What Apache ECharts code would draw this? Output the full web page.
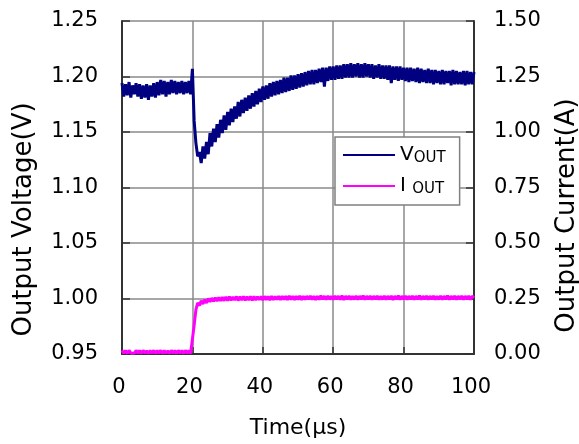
<!DOCTYPE html>
<html>
<head>
<meta charset="utf-8">
<script src="https://cdn.jsdelivr.net/npm/echarts@6/dist/echarts.min.js"></script>
<style>html,body{margin:0;padding:0;background:#fff}#c{width:579px;height:444px}</style>
</head>
<body>
<div id="c"></div>
<script>
// ---- data ----
const timeStepUs = 0.5;           // sample spacing, µs (samples at 0, 0.5, 1, ... 100)
const xTicks = [0, 20, 40, 60, 80, 100];
const voltageTicks = ['0.95','1.00','1.05','1.10','1.15','1.20','1.25'];
const currentTicks = ['0.00','0.25','0.50','0.75','1.00','1.25','1.50'];

// Output voltage (V), one value per 0.5 µs, 10 values per line (5 µs)
const vout = [
  1.194,1.182,1.193,1.183,1.195,1.181,1.192,1.184,1.194,1.182,
  1.193,1.180,1.192,1.181,1.193,1.179,1.192,1.182,1.194,1.181,
  1.195,1.183,1.197,1.184,1.196,1.182,1.195,1.184,1.197,1.185,
  1.196,1.184,1.195,1.185,1.196,1.184,1.195,1.185,1.196,1.184,
  1.207,1.160,1.140,1.128,1.132,1.122,1.137,1.126,1.141,1.130,
  1.149,1.137,1.153,1.141,1.157,1.145,1.161,1.149,1.165,1.152,
  1.168,1.156,1.171,1.159,1.173,1.162,1.177,1.164,1.179,1.167,
  1.181,1.169,1.183,1.171,1.185,1.173,1.187,1.175,1.189,1.177,
  1.191,1.179,1.192,1.180,1.194,1.182,1.195,1.183,1.196,1.184,
  1.197,1.185,1.199,1.186,1.199,1.187,1.201,1.188,1.201,1.189,
  1.202,1.190,1.203,1.191,1.204,1.192,1.205,1.193,1.206,1.193,
  1.206,1.194,1.207,1.195,1.208,1.191,1.208,1.196,1.209,1.197,
  1.209,1.197,1.210,1.198,1.210,1.198,1.211,1.199,1.211,1.199,
  1.212,1.199,1.211,1.200,1.212,1.199,1.211,1.199,1.212,1.200,
  1.211,1.199,1.211,1.198,1.210,1.199,1.211,1.198,1.210,1.198,
  1.210,1.197,1.210,1.194,1.209,1.197,1.209,1.196,1.209,1.197,
  1.208,1.196,1.208,1.195,1.208,1.196,1.207,1.195,1.208,1.194,
  1.207,1.195,1.206,1.194,1.207,1.194,1.206,1.193,1.206,1.194,
  1.205,1.193,1.206,1.193,1.205,1.194,1.205,1.192,1.206,1.193,
  1.205,1.193,1.204,1.193,1.205,1.192,1.205,1.193,1.204,1.193,
  1.204
];

// Output current (A), one value per 0.5 µs, 10 values per line (5 µs)
const iout = [
  0.016,0.004,0.015,0.003,0.016,0.005,0.014,0.003,0.016,0.004,
  0.015,0.003,0.016,0.004,0.014,0.003,0.015,0.004,0.016,0.003,
  0.015,0.004,0.016,0.003,0.015,0.004,0.014,0.003,0.016,0.004,
  0.015,0.003,0.016,0.004,0.015,0.003,0.016,0.004,0.015,0.003,
  0.010,0.130,0.200,0.230,0.218,0.240,0.225,0.245,0.230,0.250,
  0.235,0.252,0.237,0.254,0.238,0.255,0.239,0.256,0.240,0.257,
  0.241,0.258,0.242,0.257,0.243,0.259,0.241,0.258,0.243,0.260,
  0.242,0.258,0.243,0.259,0.242,0.260,0.243,0.258,0.244,0.259,
  0.243,0.260,0.244,0.259,0.243,0.261,0.244,0.259,0.245,0.260,
  0.244,0.261,0.245,0.260,0.244,0.262,0.245,0.260,0.244,0.261,
  0.245,0.262,0.244,0.260,0.245,0.261,0.246,0.262,0.245,0.260,
  0.244,0.261,0.245,0.263,0.246,0.261,0.245,0.262,0.246,0.260,
  0.245,0.262,0.246,0.261,0.245,0.263,0.244,0.261,0.246,0.262,
  0.245,0.260,0.246,0.262,0.245,0.261,0.246,0.263,0.245,0.261,
  0.246,0.262,0.245,0.261,0.246,0.262,0.245,0.260,0.246,0.262,
  0.245,0.261,0.246,0.262,0.244,0.261,0.246,0.263,0.245,0.261,
  0.246,0.262,0.245,0.261,0.246,0.262,0.245,0.261,0.246,0.263,
  0.245,0.261,0.246,0.262,0.245,0.261,0.246,0.262,0.245,0.260,
  0.246,0.262,0.245,0.261,0.246,0.263,0.245,0.261,0.246,0.262,
  0.245,0.261,0.246,0.262,0.245,0.261,0.246,0.262,0.245,0.261,
  0.253
];

const seriesNames = ['VOUT', 'IOUT'];

// ---- chart ----
const FONT = 'DejaVu Sans';
const pair = arr => arr.map((v, i) => [i * timeStepUs, v]);

const chart = echarts.init(document.getElementById('c'), null, {renderer: 'canvas'});
const gridColor = '#8a8a8a';
const axisColor = '#333';

chart.setOption({
  animation: false,
  backgroundColor: '#fff',
  textStyle: {fontFamily: FONT},
  grid: {left: 122, right: 105, top: 21, height: 333, containLabel: false, outerBoundsMode: 'none'},
  xAxis: {
    type: 'value',
    min: xTicks[0], max: xTicks[xTicks.length - 1], interval: xTicks[1] - xTicks[0],
    name: 'Time(µs)', nameLocation: 'middle', nameGap: 63,
    nameTextStyle: {fontFamily: FONT, fontSize: 22, color: '#000'},
    axisLine: {show: true, lineStyle: {color: axisColor, width: 2}},
    axisTick: {show: true, inside: true, length: 7, lineStyle: {color: axisColor, width: 1.5}},
    axisLabel: {fontFamily: FONT, fontSize: 21, color: '#000', margin: 23, padding: [0, 6, 0, 0]},
    splitLine: {show: true, lineStyle: {color: gridColor, width: 1.5}}
  },
  yAxis: [{
    type: 'value', position: 'left',
    min: 0.95, max: 1.25, interval: 0.05,
    name: 'Output Voltage(V)', nameLocation: 'middle', nameRotate: 90, nameGap: 85,
    nameTextStyle: {fontFamily: FONT, fontSize: 26, color: '#000', padding: [0, 64, 0, 0]},
    axisLine: {show: true, lineStyle: {color: axisColor, width: 2}},
    axisTick: {show: true, inside: true, length: 8, lineStyle: {color: axisColor, width: 1.5}},
    axisLabel: {fontFamily: FONT, fontSize: 21, color: '#000', margin: 24,
      formatter: (v, idx) => voltageTicks[idx] !== undefined ? voltageTicks[idx] : v.toFixed(2)},
    splitLine: {show: true, lineStyle: {color: gridColor, width: 1.5}}
  }, {
    type: 'value', position: 'right',
    min: 0, max: 1.5, interval: 0.25,
    name: 'Output Current(A)', nameLocation: 'middle', nameRotate: 90, nameGap: 80,
    nameTextStyle: {fontFamily: FONT, fontSize: 26, color: '#000', padding: [0, 56, 0, 0]},
    axisLine: {show: true, lineStyle: {color: axisColor, width: 2}},
    axisTick: {show: true, inside: true, length: 8, lineStyle: {color: axisColor, width: 1.5}},
    axisLabel: {fontFamily: FONT, fontSize: 21, color: '#000', margin: 20,
      formatter: (v, idx) => currentTicks[idx] !== undefined ? currentTicks[idx] : v.toFixed(2)},
    splitLine: {show: false}
  }],
  legend: {
    data: seriesNames,
    left: 335, top: 137, orient: 'vertical',
    icon: 'rect', itemWidth: 52, itemHeight: 2, itemGap: 10,
    padding: [8, 14, 8, 8],
    borderColor: '#808080', borderWidth: 1.5, backgroundColor: '#fff',
    formatter: name => name === 'VOUT' ? '{big|V}{sub|OUT}' : '{big|I }{sub|OUT}',
    textStyle: {
      color: '#000',
      rich: {
        big: {fontFamily: FONT, fontSize: 20, color: '#000'},
        sub: {fontFamily: FONT, fontSize: 15, color: '#000', padding: [7, 0, 0, 0]}
      }
    }
  },
  series: [{
    name: seriesNames[0], type: 'line', yAxisIndex: 0,
    data: pair(vout), showSymbol: false, clip: false, sampling: null,
    color: '#000080', lineStyle: {color: '#000080', width: 3}, z: 3
  }, {
    name: seriesNames[1], type: 'line', yAxisIndex: 1,
    data: pair(iout), showSymbol: false, clip: false, sampling: null,
    color: '#ff00ff', lineStyle: {color: '#ff00ff', width: 3}, z: 3
  }]
});
</script>
</body>
</html>
